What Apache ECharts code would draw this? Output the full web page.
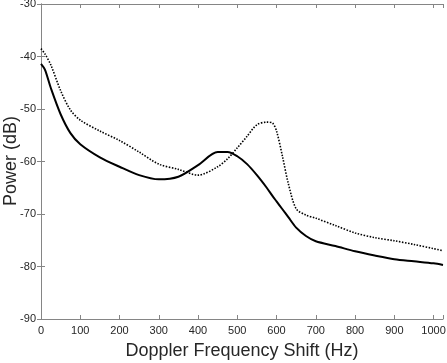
<!DOCTYPE html>
<html>
<head>
<meta charset="utf-8">
<script src="https://cdn.jsdelivr.net/npm/echarts@6/dist/echarts.min.js"></script>
<style>
html,body{margin:0;padding:0;background:#fff;}
#chart{width:447px;height:363px;}
</style>
</head>
<body>
<div id="chart"></div>
<script>
var freqHz = [0, 10, 25, 50, 75, 100, 150, 200, 250, 300, 350, 400, 450, 475, 500, 525, 550, 575, 590, 600, 615, 630, 650, 675, 700, 750, 800, 850, 900, 950, 1000, 1024];
var solidDb = [-41.4, -42.5, -46, -51, -54.6, -56.7, -59.2, -61, -62.6, -63.4, -62.9, -60.7, -58.2, -58.2, -59, -60.5, -62.6, -65, -66.6, -67.6, -69.1, -70.6, -72.6, -74.2, -75.2, -76.1, -77.1, -77.9, -78.6, -79, -79.4, -79.7];
var dottedDb = [-38.5, -39.5, -41.6, -46.5, -50.2, -52.1, -54.2, -56, -58.2, -60.5, -61.5, -62.6, -61, -59.5, -57.4, -55.2, -53, -52.5, -52.7, -54.2, -59, -64.2, -69, -70.2, -70.8, -72.2, -73.6, -74.5, -75.1, -75.8, -76.6, -77];
var xTicks = [0, 100, 200, 300, 400, 500, 600, 700, 800, 900, 1000];
var yTicks = [-90, -80, -70, -60, -50, -40, -30];
var xTitle = 'Doppler Frequency Shift (Hz)';
var yTitle = 'Power (dB)';

function pairs(xs, ys){ return xs.map(function(x,i){return [x, ys[i]];}); }

var axisColor = '#858585';
var fontFam = 'Liberation Sans, Arial, sans-serif';
var labelStyle = {color:'#262626', fontSize:11, fontFamily:fontFam};
var chart = echarts.init(document.getElementById('chart'));
chart.setOption({
  animation:false,
  backgroundColor:'#fff',
  grid:{left:41, right:4, top:4, bottom:44, containLabel:false, outerBoundsMode:'none'},
  graphic:[{
    type:'text', x:11, y:161, rotation:Math.PI/2,
    style:{text:yTitle, fill:'#262626', fontSize:18, fontFamily:fontFam, align:'center', verticalAlign:'middle'}
  }],
  xAxis:[{
    type:'value', min:0, max:1024, interval:100, position:'bottom',
    name:xTitle, nameLocation:'middle', nameGap:23,
    nameTextStyle:{color:'#262626', fontSize:18, fontFamily:fontFam},
    axisLine:{show:true, lineStyle:{color:axisColor, width:1}},
    axisTick:{show:true, inside:true, length:4, lineStyle:{color:axisColor}},
    axisLabel:Object.assign({margin:6, hideOverlap:false, formatter:function(v){return xTicks.indexOf(v)>=0 ? String(v) : '';}}, labelStyle),
    splitLine:{show:false}
  },{
    type:'value', min:0, max:1024, interval:100, position:'top',
    axisLine:{show:true, lineStyle:{color:axisColor, width:1}},
    axisTick:{show:true, inside:true, length:4, lineStyle:{color:axisColor}},
    axisLabel:{show:false}, splitLine:{show:false}
  }],
  yAxis:[{
    type:'value', min:-90, max:-30, interval:10, position:'left',
    axisLine:{show:true, lineStyle:{color:axisColor, width:1}},
    axisTick:{show:true, inside:true, length:4, lineStyle:{color:axisColor}},
    axisLabel:Object.assign({margin:5, hideOverlap:false, formatter:function(v){return yTicks.indexOf(v)>=0 ? String(v) : '';}}, labelStyle),
    splitLine:{show:false}
  },{
    type:'value', min:-90, max:-30, interval:10, position:'right',
    axisLine:{show:true, lineStyle:{color:axisColor, width:1}},
    axisTick:{show:true, inside:true, length:4, lineStyle:{color:axisColor}},
    axisLabel:{show:false}, splitLine:{show:false}
  }],
  series:[{
    type:'line', data:pairs(freqHz, solidDb), smooth:0.3, symbol:'none',
    lineStyle:{color:'#000', width:2, type:'solid'}
  },{
    type:'line', data:pairs(freqHz, dottedDb), smooth:0.3, symbol:'none',
    lineStyle:{color:'#000', width:1.6, type:[1.5,1.5]}
  }]
});
</script>
</body>
</html>
